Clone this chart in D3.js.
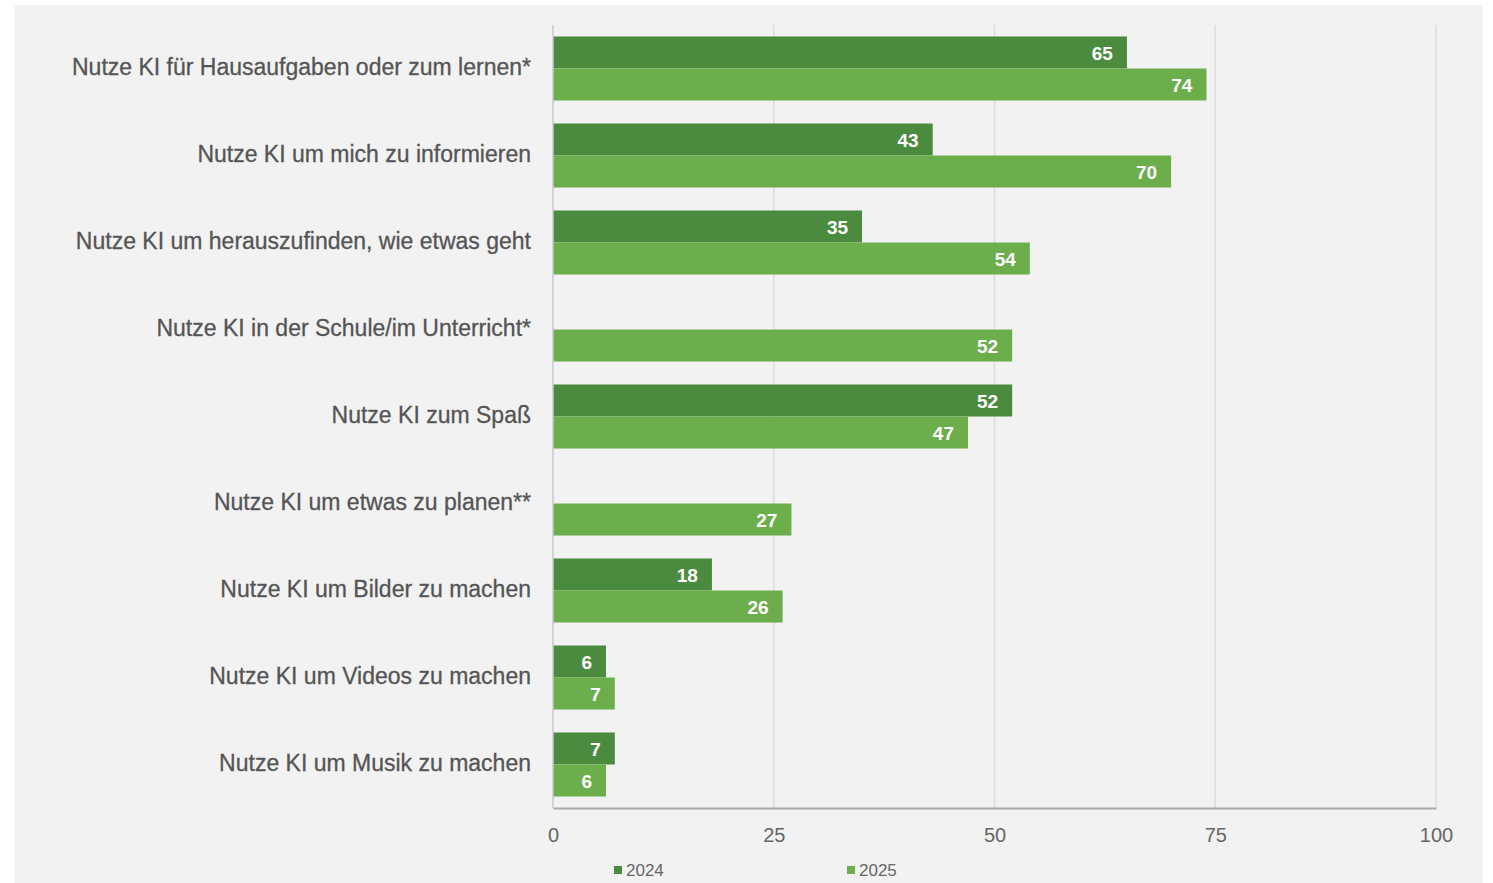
<!DOCTYPE html>
<html>
<head>
<meta charset="utf-8">
<script src="https://cdn.jsdelivr.net/npm/d3@7"></script>
<style>
  body { margin: 0; background: #fff; }
  text { font-family: "Liberation Sans", Arial, sans-serif; }
</style>
</head>
<body>
<div id="chart"></div>
<script>
// categories and values (percent)
var categories = [
  "Nutze KI für Hausaufgaben oder zum lernen*",
  "Nutze KI um mich zu informieren",
  "Nutze KI um herauszufinden, wie etwas geht",
  "Nutze KI in der Schule/im Unterricht*",
  "Nutze KI zum Spaß",
  "Nutze KI um etwas zu planen**",
  "Nutze KI um Bilder zu machen",
  "Nutze KI um Videos zu machen",
  "Nutze KI um Musik zu machen"
];
var values2024 = [65, 43, 35, null, 52, null, 18, 6, 7];
var values2025 = [74, 70, 54, 52, 47, 27, 26, 7, 6];
var seriesNames = ["2024", "2025"];
var tickValues = [0, 25, 50, 75, 100];

var colors = {"2024": "#4b8b40", "2025": "#6cad4c"};

var W = 1493, H = 883;
var margin = {top: 25, right: 57, bottom: 75, left: 553};

var svg = d3.select("#chart")
  .append("svg")
    .attr("width", W)
    .attr("height", H);

// grey panel
svg.append("rect")
  .attr("x", 15).attr("y", 5)
  .attr("width", 1468).attr("height", 878)
  .attr("fill", "#f2f2f2");

var x = d3.scaleLinear()
  .domain([0, 100])
  .range([margin.left, W - margin.right]);

var y = d3.scaleBand()
  .domain(categories)
  .range([margin.top, H - margin.bottom])
  .paddingInner(0.264)
  .paddingOuter(0.132);

var y2 = d3.scaleBand()
  .domain(seriesNames)
  .range([0, y.bandwidth()]);

// gridlines
svg.append("g")
  .selectAll("line")
  .data(tickValues.slice(1))
  .enter()
  .append("line")
    .attr("x1", function(d) { return x(d); })
    .attr("x2", function(d) { return x(d); })
    .attr("y1", margin.top)
    .attr("y2", H - margin.bottom)
    .attr("stroke", "#dcdcdc")
    .attr("stroke-width", 1.5);

// data rows
var rows = categories.map(function(c, i) {
  return {cat: c, v: {"2024": values2024[i], "2025": values2025[i]}};
});

var bars = [];
rows.forEach(function(r) {
  seriesNames.forEach(function(s) {
    if (r.v[s] != null) bars.push({cat: r.cat, series: s, value: r.v[s]});
  });
});

svg.append("g")
  .selectAll("rect")
  .data(bars)
  .enter()
  .append("rect")
    .attr("x", x(0))
    .attr("y", function(d) { return y(d.cat) + y2(d.series); })
    .attr("width", function(d) { return x(d.value) - x(0); })
    .attr("height", y2.bandwidth())
    .attr("fill", function(d) { return colors[d.series]; });

// value labels
svg.append("g")
  .selectAll("text")
  .data(bars)
  .enter()
  .append("text")
    .attr("x", function(d) { return x(d.value) - 14; })
    .attr("y", function(d) { return y(d.cat) + y2(d.series) + y2.bandwidth() / 2; })
    .attr("dy", "0.38em")
    .attr("text-anchor", "end")
    .attr("fill", "#fff")
    .style("font-weight", "bold")
    .style("font-size", "19px")
    .text(function(d) { return d.value; });

// category labels
svg.append("g")
  .selectAll("text")
  .data(categories)
  .enter()
  .append("text")
    .attr("x", margin.left - 22)
    .attr("y", function(d) { return y(d) + y.bandwidth() / 2; })
    .attr("dy", "0.3em")
    .attr("text-anchor", "end")
    .attr("fill", "#555")
    .attr("stroke", "#555")
    .attr("stroke-width", 0.3)
    .style("font-size", "23px")
    .text(function(d) { return d; });

// y axis line
svg.append("line")
  .attr("x1", x(0)).attr("x2", x(0))
  .attr("y1", margin.top).attr("y2", H - margin.bottom)
  .attr("stroke", "#c8c8c8")
  .attr("stroke-width", 1.5);

// x axis
var xAxis = svg.append("g")
  .attr("transform", "translate(0," + (H - margin.bottom) + ")")
  .call(d3.axisBottom(x).tickValues(tickValues).tickSize(0).tickPadding(20));
xAxis.select(".domain").attr("stroke", "#a8a8a8").attr("stroke-width", 2);
xAxis.selectAll("text")
  .attr("fill", "#666")
  .style("font-size", "20px")
  .style("font-family", "'Liberation Sans Narrow', 'Liberation Sans', sans-serif");

// legend
var legendX = {"2024": 614, "2025": 847};
var legend = svg.append("g")
  .selectAll("g")
  .data(seriesNames)
  .enter()
  .append("g")
    .attr("transform", function(d) { return "translate(" + legendX[d] + ",870)"; });
legend.append("rect")
  .attr("x", 0).attr("y", -4)
  .attr("width", 8).attr("height", 8)
  .attr("fill", function(d) { return colors[d]; });
legend.append("text")
  .attr("x", 12)
  .attr("dy", "0.36em")
  .attr("fill", "#666")
  .style("font-size", "17px")
  .style("font-family", "'Liberation Sans Narrow', 'Liberation Sans', sans-serif")
  .text(function(d) { return d; });
</script>
</body>
</html>
